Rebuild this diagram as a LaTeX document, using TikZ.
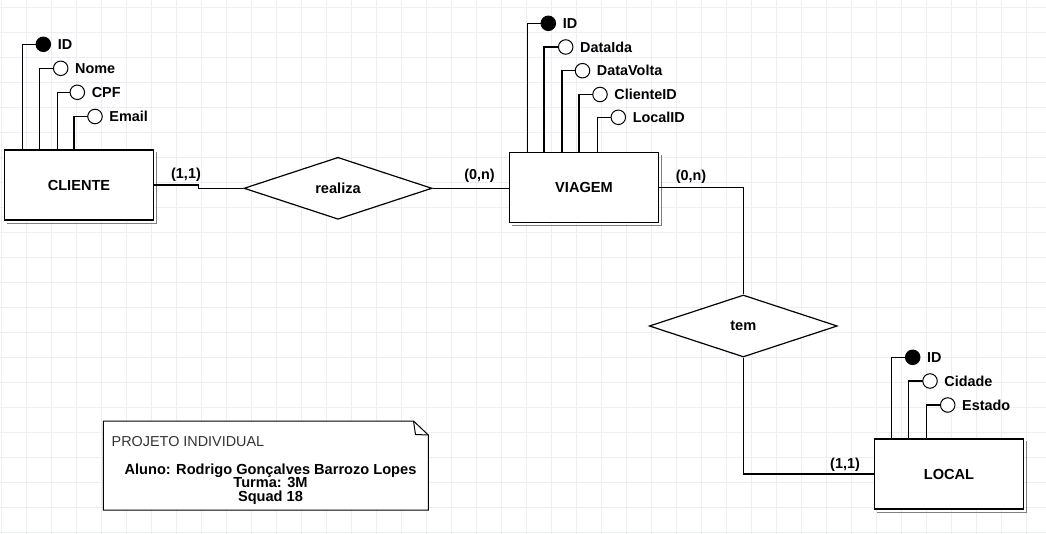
\documentclass[tikz,border=0pt]{standalone}
\usepackage{fontspec}
\setmainfont{Liberation Sans}
\usetikzlibrary{shapes.geometric,calc}
\definecolor{gridc}{RGB}{233,239,245}
\definecolor{shadowc}{RGB}{128,128,128}
\definecolor{notetxt}{RGB}{51,51,51}
\tikzset{
  conn/.style={line width=1.2pt,black},
  entity/.style={draw,line width=1.2pt,rectangle,minimum width=149pt,minimum height=70pt,inner sep=0pt,fill=white,font=\fontsize{14.6}{16}\selectfont\bfseries},
  rel/.style={draw,line width=1.2pt,diamond,minimum width=188pt,minimum height=62pt,inner sep=0pt,fill=white,font=\fontsize{14.6}{16}\selectfont\bfseries},
  keyattr/.style={circle,draw,line width=1pt,fill=black,minimum size=14.5pt,inner sep=0pt},
  plainattr/.style={circle,draw,line width=1pt,fill=white,minimum size=14.5pt,inner sep=0pt},
  attrtext/.style={anchor=west,inner sep=0pt,font=\fontsize{14.4}{16}\selectfont\bfseries},
  card/.style={inner sep=0pt,font=\fontsize{14.4}{16}\selectfont\bfseries},
}
\newcommand\erattr[7]{%
  \draw[conn] (#4,#5) -| ($(#1.north west)+(#3,0)$);
  \node[#6] (#2) at (#4,#5) {};
  \node[attrtext] (#2-t) at ([xshift=6.5pt]#2.east) {#7};
}
\newcommand\boxshadow[1]{%
  \draw[shadowc,line width=1pt] ([xshift=2.6pt,yshift=-3pt]#1.north east) -- ([xshift=2.6pt,yshift=-2.6pt]#1.south east) -- ([xshift=3pt,yshift=-2.6pt]#1.south west);
}
\begin{document}
\begin{tikzpicture}[x=1pt,y=-1pt]
\useasboundingbox (0,0) rectangle (1046,534);
\fill[white] (0,0) rectangle (1046,534);
% grid
\foreach \gx in {1.7,26.7,...,1046} {\draw[gridc,line width=1pt] (\gx,0) -- (\gx,534);}
\foreach \gy in {7.3,32.3,...,534} {\draw[gridc,line width=1pt] (0,\gy) -- (1046,\gy);}

% entities
\node[entity] (cliente) at (79,185) {CLIENTE};
\boxshadow{cliente}
\node[entity] (viagem) at (584,187.5) {VIAGEM};
\boxshadow{viagem}
\node[entity] (local) at (949,474) {LOCAL};
\boxshadow{local}

% relationships
\node[rel] (realiza) at (338,188.3) {realiza};
\node[rel] (tem) at (743.3,326) {tem};

% connectors
\draw[conn] (cliente.east) -- ++(44,0) |- (realiza.west);
\draw[conn] (realiza.east) -- (viagem.west |- realiza.east);
\draw[conn] (viagem.east) -| (tem.north);
\draw[conn] (tem.south) |- (local.west);

% cardinalities
\node[card] (c1) at (186,175) {(1,1)};
\node[card] (c2) at (479.5,176) {(0,n)};
\node[card] (c3) at (691,176.5) {(0,n)};
\node[card] (c4) at (845,464.5) {(1,1)};

% CLIENTE attributes
\erattr{cliente}{cid}{18.7}{43.3}{44.3}{keyattr}{ID}
\erattr{cliente}{cnome}{35.3}{60.7}{68.3}{plainattr}{Nome}
\erattr{cliente}{ccpf}{53.3}{77.3}{92.3}{plainattr}{CPF}
\erattr{cliente}{cemail}{70}{95}{116.5}{plainattr}{Email}

% VIAGEM attributes
\erattr{viagem}{vid}{18.4}{548.3}{23.3}{keyattr}{ID}
\erattr{viagem}{vida}{35}{565.7}{47}{plainattr}{DataIda}
\erattr{viagem}{vvolta}{53}{582.5}{70.7}{plainattr}{DataVolta}
\erattr{viagem}{vcli}{70}{600}{94.5}{plainattr}{ClienteID}
\erattr{viagem}{vloc}{88.4}{618.3}{117.3}{plainattr}{LocalID}

% LOCAL attributes
\erattr{local}{lid}{17.7}{912.7}{357.3}{keyattr}{ID}
\erattr{local}{lcid}{34.3}{930}{381}{plainattr}{Cidade}
\erattr{local}{lest}{52.3}{947.7}{405}{plainattr}{Estado}

% note
\draw[line width=1pt,fill=white] (103.3,421) -- (413.5,421) -- (428.3,435) -- (428.3,510) -- (103.3,510) -- cycle;
\draw[line width=1pt] (413.5,421) -- (415.5,434.5) -- (428.3,435);
\node[anchor=west,inner sep=0pt,text=notetxt,font=\fontsize{14.4}{16}\selectfont] (ntitle) at (111.5,441.7) {PROJETO INDIVIDUAL};
\node[align=center,inner sep=0pt,font=\fontsize{14.6}{13.3}\selectfont\bfseries] (nbody) at (270.5,484) {Aluno: Rodrigo Gonçalves Barrozo Lopes\\Turma: 3M\\Squad 18};
\end{tikzpicture}
\end{document}
